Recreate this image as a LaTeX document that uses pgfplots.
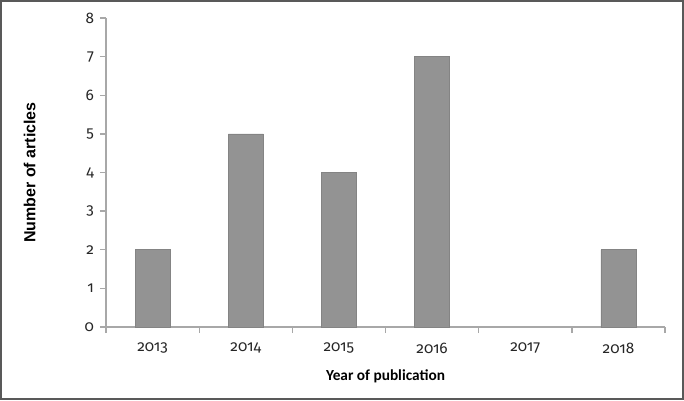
\documentclass[border=0pt]{standalone}
\usepackage{pgfplots}
\pgfplotsset{compat=1.18}
\usepackage{fontspec}
\setmainfont{Carlito}
\newfontfamily\tickfont{Fira Sans}[Numbers=OldStyle]
\newfontfamily\labfont{Liberation Sans}
\definecolor{barc}{HTML}{939393}
\definecolor{axc}{HTML}{A8A8A8}
\begin{document}
\begin{tikzpicture}
\begin{axis}[
  at={(0,0)}, anchor=south west,
  scale only axis, width=419.25pt, height=231.75pt,
  xmin=-0.5, xmax=5.5, ymin=0, ymax=8,
  axis lines*=left,
  axis line style={axc, line width=1pt},
  xtick={0,...,5},
  xticklabels={2013,2014,2015,2016,2017,2018},
  major x tick style={draw=none},
  minor xtick={-0.5,0.5,...,5.5},
  minor x tick style={axc, line width=1pt},
  minor tick length=4.5pt,
  ytick={0,...,8},
  y tick style={axc, line width=1pt},
  major tick length=4.5pt,
  tick align=outside,
  tick label style={font=\tickfont\fontsize{11.5}{13}\selectfont, text=black!85},
  xticklabel style={yshift=-4pt},
  yticklabel style={xshift=-1pt},
  /pgf/number format/assume math mode=true,
  xlabel={\bfseries Year of publication},
  xlabel style={font=\fontsize{11.5}{13}\selectfont, yshift=-5pt},
  ylabel={\labfont\bfseries Number of articles},
  ylabel style={font=\fontsize{12}{14}\selectfont, yshift=30pt},
  ybar, bar width=26.25pt,
  clip=false,
]
\addplot[fill=barc, draw=barc!90!black, line width=0.4pt] coordinates {(0,2) (1,5) (2,4) (3,7) (5,2)};
\end{axis}
\draw[black!65, line width=1.5pt] (-78.75pt,244.5pt) rectangle (432.75pt,-54pt);
\end{tikzpicture}
\end{document}
